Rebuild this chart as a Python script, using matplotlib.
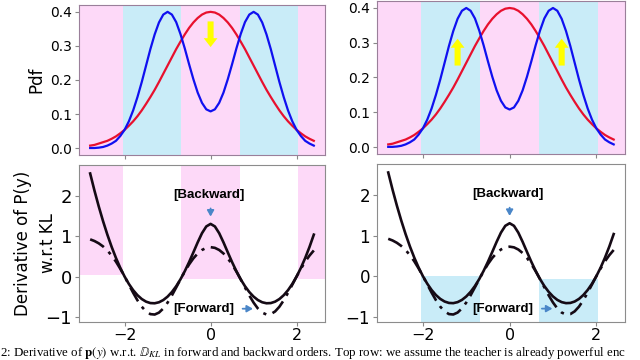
import numpy as np
import matplotlib
matplotlib.use("Agg")
import matplotlib.pyplot as plt

plt.rcParams["mathtext.fontset"] = "stix"

# sample grid, -2.8 .. 2.4 in steps of 0.1
x = np.linspace(-2.8, 2.4, 53)

# top row: teacher pdf (red) and student pdf (blue)
red = [0.008, 0.010, 0.014, 0.018, 0.022, 0.028, 0.035, 0.044, 0.054, 0.066,
       0.079, 0.094, 0.111, 0.130, 0.150, 0.171, 0.194, 0.218, 0.242, 0.266,
       0.290, 0.312, 0.333, 0.352, 0.368, 0.381, 0.391, 0.397, 0.399, 0.397,
       0.391, 0.381, 0.368, 0.352, 0.333, 0.312, 0.290, 0.266, 0.242, 0.218,
       0.194, 0.171, 0.150, 0.130, 0.111, 0.094, 0.079, 0.066, 0.054, 0.044,
       0.035, 0.028, 0.022]
blue = [0.001, 0.001, 0.002, 0.004, 0.008, 0.014, 0.022, 0.036, 0.054, 0.079,
        0.111, 0.150, 0.194, 0.242, 0.290, 0.333, 0.368, 0.391, 0.399, 0.391,
        0.369, 0.334, 0.292, 0.246, 0.202, 0.163, 0.133, 0.114, 0.108, 0.114,
        0.133, 0.163, 0.202, 0.246, 0.292, 0.334, 0.369, 0.391, 0.399, 0.391,
        0.368, 0.333, 0.290, 0.242, 0.194, 0.150, 0.111, 0.079, 0.054, 0.036,
        0.022, 0.014, 0.008]

# bottom row: backward (solid) and forward (dash-dot) derivative
backward = [2.560, 2.135, 1.740, 1.375, 1.040, 0.735, 0.460, 0.215, 0.000, -0.185,
            -0.340, -0.465, -0.560, -0.625, -0.660, -0.665, -0.640, -0.585, -0.500, -0.386,
            -0.242, -0.069, 0.132, 0.357, 0.600, 0.848, 1.076, 1.244, 1.307, 1.244,
            1.076, 0.848, 0.600, 0.357, 0.132, -0.069, -0.242, -0.386, -0.500, -0.585,
            -0.640, -0.665, -0.660, -0.625, -0.560, -0.465, -0.340, -0.185, 0.000, 0.215,
            0.460, 0.735, 1.040]
forward = [0.923, 0.882, 0.824, 0.747, 0.647, 0.520, 0.369, 0.193, 0.000, -0.203,
           -0.405, -0.592, -0.751, -0.868, -0.935, -0.945, -0.897, -0.795, -0.649, -0.471,
           -0.273, -0.071, 0.123, 0.300, 0.451, 0.572, 0.659, 0.712, 0.729, 0.712,
           0.659, 0.572, 0.451, 0.300, 0.123, -0.071, -0.273, -0.471, -0.649, -0.795,
           -0.897, -0.945, -0.935, -0.868, -0.751, -0.592, -0.405, -0.203, 0.000, 0.193,
           0.369, 0.520, 0.647]

# region edges (where the two pdfs cross)
edges = [-2.04, -0.68, 0.68, 2.04]

PINK = "#fdd9f8"
CYAN = "#c9ecf8"
XL = (-3.06, 2.66)

fig = plt.figure(figsize=(6.4, 3.6), dpi=100)
ax1 = fig.add_axes([0.1234, 0.5694, 0.3844, 0.4167])
ax2 = fig.add_axes([0.589, 0.5722, 0.3875, 0.425])
ax3 = fig.add_axes([0.1234, 0.1056, 0.3844, 0.436])
ax4 = fig.add_axes([0.589, 0.1056, 0.3875, 0.4389])

# top row
for ax in (ax1, ax2):
    bands = [XL[0]] + edges + [XL[1]]
    for i in range(len(bands) - 1):
        ax.axvspan(bands[i], bands[i + 1], color=PINK if i % 2 == 0 else CYAN, lw=0, zorder=0)
    ax.plot(x, red, color="#e8102e", lw=1.6)
    ax.plot(x, blue, color="#1010f0", lw=1.6)
    ax.set_xlim(XL)
    ax.set_ylim(-0.0195, 0.419)
    ax.set_xticks([-2, 0, 2])
    ax.set_xticklabels([])
    ax.set_yticks([0.0, 0.1, 0.2, 0.3, 0.4])
    ax.tick_params(labelsize=10, color="#888", length=3, pad=2)
    for s in ax.spines.values():
        s.set_color("#9a7f9a")
ax1.set_ylabel("Pdf", fontsize=12, labelpad=3)

ax1.arrow(0, 0.371, 0, -0.075, width=0.14, head_width=0.32, head_length=0.026,
          length_includes_head=True, color="#ffff00", lw=0, zorder=5)
for xa in (-1.2, 1.2):
    ax2.arrow(xa, 0.234, 0, 0.077, width=0.14, head_width=0.32, head_length=0.026,
              length_includes_head=True, color="#ffff00", lw=0, zorder=5)

# bottom row
YL = (-1.13, 2.77)
ax3.fill_between([XL[0], edges[0]], 0.03, YL[1], color=PINK, lw=0, zorder=0)
ax3.fill_between([edges[1], edges[2]], -0.05, YL[1], color=PINK, lw=0, zorder=0)
ax3.fill_between([edges[3], XL[1]], -0.05, YL[1], color=PINK, lw=0, zorder=0)
ax4.fill_between([edges[0], edges[1]], YL[0], 0.0, color=CYAN, lw=0, zorder=0)
ax4.fill_between([edges[2], edges[3]], YL[0], -0.07, color=CYAN, lw=0, zorder=0)

for ax, ls in ((ax3, 13), (ax4, 12)):
    ax.plot(x, backward, color="#150a15", lw=1.9)
    ax.plot(x, forward, color="#150a15", lw=1.9, ls=(0, (6, 2.5, 1.2, 2.5)))
    ax.set_xlim(XL)
    ax.set_ylim(YL)
    ax.set_xticks([-2, 0, 2])
    ax.set_yticks([-1, 0, 1, 2])
    ax.tick_params(axis="y", labelsize=ls, color="#888", length=3, pad=2)
    ax.tick_params(axis="x", labelsize=11.5, color="#888", length=3, pad=1)
    for s in ax.spines.values():
        s.set_color("#8c8c8c")
    ax.text(-0.03, 2.02, "[Backward]", ha="center", va="center", fontsize=9.5,
            fontweight="bold", family="Liberation Sans")
    ax.annotate("", xy=(0, 1.42), xytext=(0, 1.76),
                arrowprops=dict(arrowstyle="-|>,head_width=0.2,head_length=0.35",
                                color="#4a86c8", lw=1.3))
    ax.text(-0.17, -0.8, "[Forward]", ha="center", va="center", fontsize=9.5,
            fontweight="bold", family="Liberation Sans")
    ax.annotate("", xy=(1.05, -0.8), xytext=(0.68, -0.8),
                arrowprops=dict(arrowstyle="-|>,head_width=0.2,head_length=0.35",
                                color="#4a86c8", lw=1.3))
ax3.set_ylabel("Derivative of P(y)\nw.r.t KL", fontsize=12, labelpad=-8, linespacing=1.5)

fig.text(0.0, 0.010,
         r"2: Derivative of $\mathbf{p}(y)$ w.r.t. $\mathbb{D}_{KL}$ in forward and backward orders."
         r" Top row: we assume the teacher is already powerful enc",
         family="Liberation Serif", fontsize=9.3, ha="left", va="baseline")

fig.savefig("out.png", dpi=100)
